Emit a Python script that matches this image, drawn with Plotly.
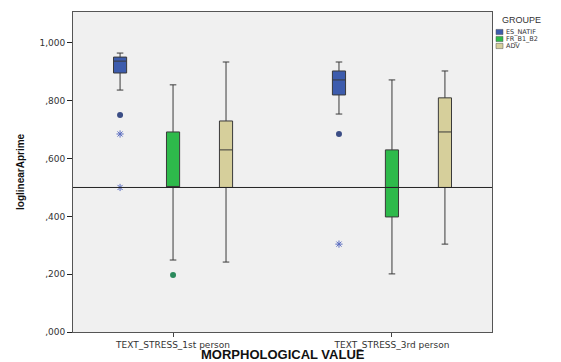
import plotly.graph_objects as go

# categories and groups
categories = ["TEXT_STRESS_1st person", "TEXT_STRESS_3rd person"]
groups = ["ES_NATIF", "FR_B1_B2", "ADV"]

# box statistics per group, one value per category
es_lower = [0.837, 0.754]
es_q1 = [0.896, 0.820]
es_median = [0.937, 0.872]
es_q3 = [0.951, 0.903]
es_upper = [0.965, 0.934]

fr_lower = [0.249, 0.201]
fr_q1 = [0.500, 0.398]
fr_median = [0.500, 0.500]
fr_q3 = [0.692, 0.630]
fr_upper = [0.855, 0.872]

adv_lower = [0.242, 0.304]
adv_q1 = [0.500, 0.500]
adv_median = [0.630, 0.692]
adv_q3 = [0.730, 0.810]
adv_upper = [0.934, 0.903]

# outliers (circles) and extremes (stars): category index, group index, value
outlier_cat = [0, 1, 0]
outlier_grp = [0, 0, 1]
outlier_val = [0.751, 0.685, 0.197]

extreme_cat = [0, 0, 1]
extreme_grp = [0, 0, 0]
extreme_val = [0.685, 0.500, 0.304]

reference_value = 0.5

y_tickvals = [0.0, 0.2, 0.4, 0.6, 0.8, 1.0]
y_ticktext = [",000", ",200", ",400", ",600", ",800", "1,000"]

fill_colors = ["#3d5cad", "#2eba4b", "#d6cf9b"]
outlier_colors = ["#3b4d85", "#2b8a5c", "#8a8358"]

group_offset = [-0.242, 0.0, 0.242]
box_width = 0.06

# page body has an 8px margin, so the figure is laid out 8px in from the window
W, H = 553, 354
L, T, R, B = 65, 4, 69, 30
plot_w = W - L - R
plot_h = H - T - B


def px_x(x):
    # window pixel -> paper x
    return (x - 8 - L) / plot_w


def px_y(y):
    # window pixel -> paper y
    return (H - B - (y - 8)) / plot_h


stats = [
    (es_lower, es_q1, es_median, es_q3, es_upper),
    (fr_lower, fr_q1, fr_median, fr_q3, fr_upper),
    (adv_lower, adv_q1, adv_median, adv_q3, adv_upper),
]

fig = go.Figure()

for g, (lo, q1, med, q3, up) in enumerate(stats):
    fig.add_trace(
        go.Box(
            x=[i + group_offset[g] for i in range(len(categories))],
            lowerfence=lo,
            q1=q1,
            median=med,
            q3=q3,
            upperfence=up,
            width=box_width,
            whiskerwidth=0.5,
            fillcolor=fill_colors[g],
            line=dict(color="#3a3a3a", width=1),
            boxpoints=False,
            name=groups[g],
            showlegend=False,
            hoverinfo="skip",
        )
    )

fig.add_trace(
    go.Scatter(
        x=[c + group_offset[g] for c, g in zip(outlier_cat, outlier_grp)],
        y=outlier_val,
        mode="markers",
        marker=dict(
            symbol="circle",
            size=6,
            color=[outlier_colors[g] for g in outlier_grp],
            line=dict(width=0),
        ),
        showlegend=False,
        hoverinfo="skip",
    )
)

fig.add_trace(
    go.Scatter(
        x=[c + group_offset[g] for c, g in zip(extreme_cat, extreme_grp)],
        y=extreme_val,
        mode="markers",
        marker=dict(
            symbol="asterisk-open",
            size=6,
            color="#5a6cc0",
            line=dict(color="#5a6cc0", width=1),
        ),
        showlegend=False,
        hoverinfo="skip",
    )
)

# reference line
fig.add_shape(
    type="line", xref="paper", x0=0, x1=1, yref="y",
    y0=reference_value, y1=reference_value,
    line=dict(color="#222222", width=1),
)

# hand-made compact legend (SPSS style)
annotations = [
    dict(text="GROUPE", xref="paper", yref="paper", x=px_x(500), y=px_y(20),
         xanchor="left", yanchor="middle", showarrow=False,
         font=dict(size=9, color="#333333")),
    dict(text="<b>MORPHOLOGICAL VALUE</b>", xref="paper", yref="paper",
         x=0.5, y=px_y(354), xanchor="center", yanchor="middle", showarrow=False,
         font=dict(size=13, color="#111111")),
    dict(text="<b>loglinearAprime</b>", xref="paper", yref="paper",
         x=px_x(20), y=0.5, xanchor="center", yanchor="middle", showarrow=False,
         textangle=-90, font=dict(size=10, color="#111111")),
]
for g, name in enumerate(groups):
    y_c = 32 + 7 * g
    fig.add_shape(
        type="rect", xref="paper", yref="paper",
        x0=px_x(496), x1=px_x(503),
        y0=px_y(y_c + 2.6), y1=px_y(y_c - 2.6),
        fillcolor=fill_colors[g], line=dict(color="#555555", width=0.5),
    )
    annotations.append(
        dict(text=name, xref="paper", yref="paper", x=px_x(504),
             y=px_y(y_c), xanchor="left", yanchor="middle", showarrow=False,
             font=dict(family="DejaVu Sans", size=6.5, color="#333333"))
    )

fig.update_layout(
    width=W,
    height=H,
    margin=dict(l=L, r=R, t=T, b=B),
    paper_bgcolor="white",
    plot_bgcolor="#f0f0f0",
    font=dict(family="Liberation Sans, Arial, sans-serif", color="#333333"),
    showlegend=False,
    annotations=annotations,
    xaxis=dict(
        range=[-0.457, 1.457],
        tickvals=list(range(len(categories))),
        ticktext=categories,
        ticks="outside",
        ticklen=4,
        tickcolor="#444444",
        tickfont=dict(family="DejaVu Sans", size=9, color="#333333"),
        showline=True,
        linecolor="#555555",
        mirror=True,
        showgrid=False,
        zeroline=False,
    ),
    yaxis=dict(
        range=[0, 1.107],
        tickvals=y_tickvals,
        ticktext=y_ticktext,
        ticks="outside",
        ticklen=5,
        tickcolor="#222222",
        tickfont=dict(family="DejaVu Sans", size=9, color="#333333"),
        showline=True,
        linecolor="#555555",
        mirror=True,
        showgrid=False,
        zeroline=False,
    ),
)

fig.write_html("out.html")
